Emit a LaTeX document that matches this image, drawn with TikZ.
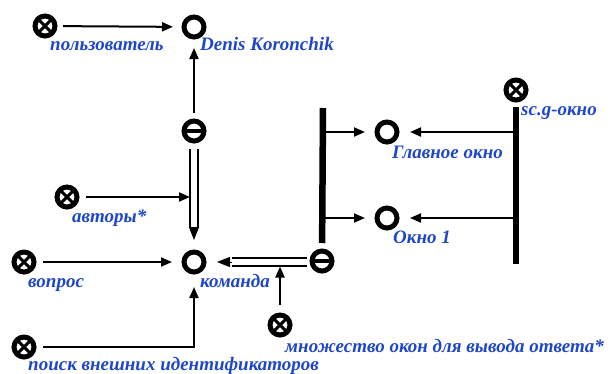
\documentclass[tikz,border=0pt]{standalone}
\usepackage{fontspec}
\setmainfont{Liberation Serif}
\usetikzlibrary{arrows.meta,calc}
\definecolor{lblue}{RGB}{30,70,200}
\begin{document}
\begin{tikzpicture}[x=1pt,y=-1pt,
  base/.style={circle,draw,line width=5pt,minimum size=20pt,inner sep=0pt,outer sep=0pt},
  varn/.style={base},
  constn/.style={base,path picture={
     \draw[line width=3pt] (path picture bounding box.north west) -- (path picture bounding box.south east)
       (path picture bounding box.north east) -- (path picture bounding box.south west);}},
  reln/.style={base,path picture={
     \draw[line width=3.5pt] (path picture bounding box.west) -- (path picture bounding box.east);}},
  lbl/.style={anchor=base west,inner sep=0pt,text=lblue,font=\bfseries\itshape\fontsize{19}{21}\selectfont},
  arr/.style={line width=2pt,-{Triangle[length=11pt,width=9pt]}},
  bar/.style={line width=6.5pt},
  dbl/.style={line width=1.5pt,double=white,double distance=6.5pt},
  dtip/.style={line width=1pt,-{Triangle[length=13pt,width=10pt]}}
]
\useasboundingbox (0,0) rectangle (614,373);
% nodes
\node[constn] (user) at (45,26) {};
\node[varn] (denis) at (194,27) {};
\node[reln] (t1) at (194,131) {};
\node[constn] (avt) at (67,197) {};
\node[constn] (vop) at (24,262) {};
\node[varn] (cmd) at (194,262) {};
\node[constn] (poisk) at (24,347) {};
\node[constn] (mnoz) at (280,325) {};
\node[reln] (t2) at (322,261) {};
\node[varn] (main) at (387,132) {};
\node[varn] (okno) at (387,218) {};
\node[constn] (scg) at (516,90) {};
% labels
\node[lbl] (l1) at (50,50) {пользователь};
\node[lbl] (l2) at (200,50) {Denis Koronchik};
\node[lbl] (l3) at (72,222) {авторы*};
\node[lbl] (l4) at (28,287) {вопрос};
\node[lbl] (l5) at (200,287) {команда};
\node[lbl] (l6) at (28,370) {поиск внешних идентификаторов};
\node[lbl] (l7) at (285,352) {множество окон для вывода ответа*};
\node[lbl] (l8) at (521,115) {sc.g-окно};
\node[lbl] (l9) at (392,158) {Главное окно};
\node[lbl] (l10) at (393,243) {Окно 1};
% coordinates
\coordinate (bltop) at (323,108);
\coordinate (b1) at (323,132);
\coordinate (b2) at (323,218);
\coordinate (brbot) at (516,264);
\coordinate (r1) at (516,132);
\coordinate (r2) at (516,218);
\coordinate (j1) at (190,197);
\coordinate (j2) at (280,266.5);
\coordinate (d1a) at ($(t1)+(0,18)$);
\coordinate (d1b) at ($(cmd)+(0,-35)$);
\coordinate (d1c) at ($(cmd)+(0,-22)$);
\coordinate (d2a) at ($(t2)+(-15,1)$);
\coordinate (d2b) at ($(cmd)+(38,0)$);
\coordinate (d2c) at ($(cmd)+(23,0)$);
% connectors
\draw[arr,shorten <=8pt,shorten >=11pt] (user) -- (denis);
\draw[arr,shorten <=8pt,shorten >=11pt] (t1) -- (denis);
\draw[arr,shorten <=9pt] (avt) -- (j1);
\draw[arr,shorten <=9pt,shorten >=12pt] (vop) -- (cmd);
\draw[arr,shorten <=9pt,shorten >=15pt] (poisk) -| (cmd);
\draw[dbl] (d1a) -- (d1b);
\draw[dtip] (d1b) -- (d1c);
\draw[dbl] (d2a) -- (d2b);
\draw[dtip] (d2b) -- (d2c);
\draw[arr,shorten <=10pt] (mnoz) -- (j2);
\draw[bar,shorten <=8pt] (t2) -- (bltop);
\draw[bar,shorten <=7pt] (scg) -- (brbot);
\draw[arr,shorten >=12pt] (b1) -- (main);
\draw[arr,shorten >=12pt] (b2) -- (okno);
\draw[arr,shorten >=13pt] (r1) -- (main);
\draw[arr,shorten >=13pt] (r2) -- (okno);
\end{tikzpicture}
\end{document}
